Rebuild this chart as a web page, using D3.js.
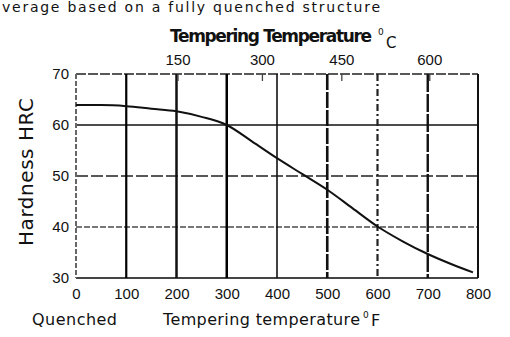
<!DOCTYPE html>
<html>
<head>
<meta charset="utf-8">
<script src="https://cdn.jsdelivr.net/npm/d3@7"></script>
<style>
  body { margin: 0; background: #fff; }
  svg { display: block; font-family: "DejaVu Sans", Verdana, sans-serif; }
</style>
</head>
<body>
<div id="chart"></div>
<script>
// Hardness curve (tempering temperature in F, hardness HRC)
const tempF = [0, 50, 100, 150, 200, 250, 300, 350, 400, 450, 500, 550, 600, 650, 700, 750, 790];
const hardness = [63.9, 63.9, 63.7, 63.2, 62.7, 61.6, 60.0, 56.8, 53.5, 50.4, 47.3, 43.7, 40.1, 37.2, 34.7, 32.6, 31.1];

// Bottom axis (F) and left axis (HRC) ticks
const fTicks = [0, 100, 200, 300, 400, 500, 600, 700, 800];
const hrcTicks = [30, 40, 50, 60, 70];

// Top axis: Celsius labels and where they sit on the F scale in the picture
const cLabels = [150, 300, 450, 600];
const cLabelPosF = [202, 370, 528, 703];

const width = 510, height = 337;
const svg = d3.select("#chart").append("svg")
  .attr("width", width)
  .attr("height", height);

const x = d3.scaleLinear().domain([0, 800]).range([76, 478]);
const y = d3.scaleLinear().domain([30, 70]).range([278, 74]);

// caption at the top of the picture
svg.append("text")
  .attr("x", 2)
  .attr("y", 12)
  .attr("textLength", 378)
  .style("font-size", "14px")
  .style("fill", "#111")
  .text("verage based on a fully quenched structure");

// grid lines, each one drawn in its own rough style
const vStyle = {
  0:   { w: 2,   c: "#666", dash: "5,2" },
  100: { w: 2.2, c: "#000", dash: null },
  200: { w: 2.5, c: "#111", dash: null },
  300: { w: 2.5, c: "#000", dash: null },
  400: { w: 1.6, c: "#111", dash: null },
  500: { w: 2.6, c: "#111", dash: "16,2" },
  600: { w: 2.2, c: "#222", dash: "7,3,2,3" },
  700: { w: 2.4, c: "#111", dash: "18,2" },
  800: { w: 2,   c: "#111", dash: null }
};
const hStyle = {
  70: { w: 1.6, c: "#222", dash: "10,2" },
  60: { w: 1.6, c: "#111", dash: null },
  50: { w: 1.6, c: "#222", dash: "12,3" },
  40: { w: 2,   c: "#777", dash: "6,2" },
  30: { w: 2,   c: "#444", dash: null }
};

const grid = svg.append("g").attr("class", "grid");

grid.selectAll(".hline")
  .data(hrcTicks)
  .enter()
  .append("line")
  .attr("class", "hline")
  .attr("x1", x(0))
  .attr("x2", x(800))
  .attr("y1", d => y(d))
  .attr("y2", d => y(d))
  .attr("stroke", d => hStyle[d].c)
  .attr("stroke-width", d => hStyle[d].w)
  .attr("stroke-dasharray", d => hStyle[d].dash);

grid.selectAll(".vline")
  .data(fTicks)
  .enter()
  .append("line")
  .attr("class", "vline")
  .attr("x1", d => x(d))
  .attr("x2", d => x(d))
  .attr("y1", y(70))
  .attr("y2", y(30))
  .attr("stroke", d => vStyle[d].c)
  .attr("stroke-width", d => vStyle[d].w)
  .attr("stroke-dasharray", d => vStyle[d].dash);

// hardness curve
const line = d3.line()
  .x((d, i) => x(tempF[i]))
  .y(d => y(d))
  .curve(d3.curveMonotoneX);

svg.append("path")
  .datum(hardness)
  .attr("d", line)
  .attr("fill", "none")
  .attr("stroke", "#111")
  .attr("stroke-width", 2);

// left axis (labels only)
const yAxis = svg.append("g")
  .attr("transform", `translate(${x(0) - 5},0)`)
  .call(d3.axisLeft(y).tickValues(hrcTicks).tickSize(0).tickPadding(2));
yAxis.select(".domain").remove();
yAxis.selectAll("text")
  .style("font-size", "15px")
  .style("fill", "#111");

// bottom axis (labels only)
const xAxis = svg.append("g")
  .attr("transform", `translate(0,${y(30) + 8})`)
  .call(d3.axisBottom(x).tickValues(fTicks).tickSize(0).tickPadding(2));
xAxis.select(".domain").remove();
xAxis.selectAll("text")
  .style("font-size", "15px")
  .style("fill", "#111");

// top axis: Celsius
const topAxis = svg.append("g")
  .attr("transform", `translate(0,${y(70)})`)
  .call(d3.axisTop(x)
    .tickValues(cLabelPosF)
    .tickFormat((d, i) => cLabels[i])
    .tickSize(-7)
    .tickPadding(9));
topAxis.select(".domain").remove();
topAxis.selectAll("line")
  .attr("stroke", "#444")
  .attr("stroke-width", 1.3);
topAxis.selectAll("text")
  .style("font-size", "15px")
  .style("fill", "#111");

// axis titles
svg.append("text")
  .attr("x", 170)
  .attr("y", 42)
  .attr("textLength", 202)
  .style("font-size", "17px")
  .style("font-weight", "bold")
  .style("fill", "#111")
  .text("Tempering Temperature");
svg.append("text")
  .attr("x", 378)
  .attr("y", 35)
  .style("font-size", "9px")
  .style("fill", "#111")
  .text("0");
svg.append("text")
  .attr("x", 386)
  .attr("y", 48)
  .style("font-size", "15px")
  .style("fill", "#111")
  .text("C");

svg.append("text")
  .attr("transform", "translate(33,246) rotate(-90)")
  .attr("textLength", 148)
  .style("font-size", "20px")
  .style("fill", "#111")
  .text("Hardness HRC");

svg.append("text")
  .attr("x", 32)
  .attr("y", 325)
  .attr("textLength", 85)
  .style("font-size", "16px")
  .style("fill", "#111")
  .text("Quenched");

svg.append("text")
  .attr("x", 163)
  .attr("y", 325)
  .attr("textLength", 197)
  .style("font-size", "16px")
  .style("fill", "#111")
  .text("Tempering temperature");
svg.append("text")
  .attr("x", 363)
  .attr("y", 318)
  .style("font-size", "9px")
  .style("fill", "#111")
  .text("0");
svg.append("text")
  .attr("x", 371)
  .attr("y", 326)
  .style("font-size", "16px")
  .style("fill", "#111")
  .text("F");
</script>
</body>
</html>
